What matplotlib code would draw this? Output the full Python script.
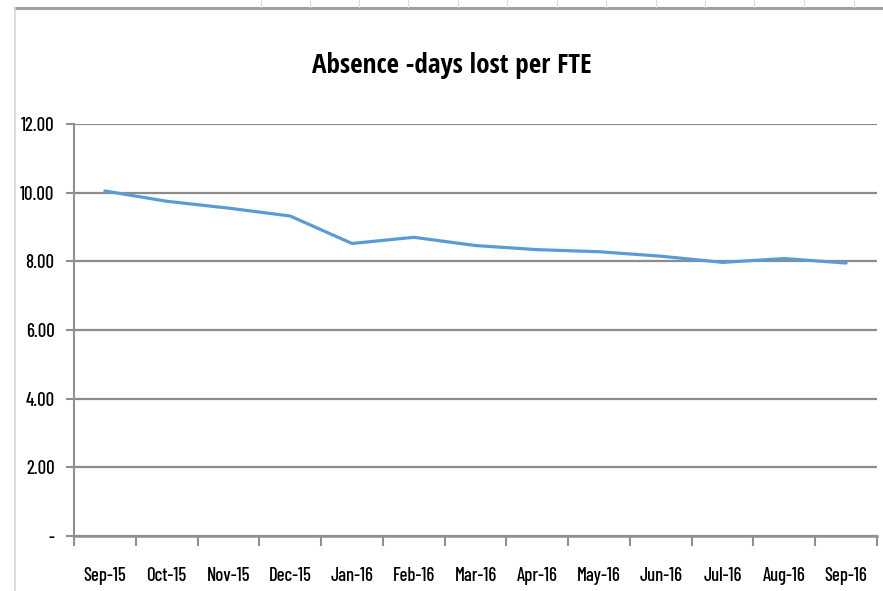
import matplotlib
matplotlib.use("Agg")
import matplotlib.pyplot as plt
from matplotlib.lines import Line2D

months = ["Sep-15", "Oct-15", "Nov-15", "Dec-15", "Jan-16", "Feb-16", "Mar-16",
          "Apr-16", "May-16", "Jun-16", "Jul-16", "Aug-16", "Sep-16"]
days_lost = [10.05, 9.75, 9.55, 9.32, 8.52, 8.70, 8.46, 8.34, 8.28, 8.15, 7.97, 8.08, 7.95]
y_ticks = [0, 2, 4, 6, 8, 10, 12]
y_labels = ["-", "2.00", "4.00", "6.00", "8.00", "10.00", "12.00"]

plt.rcParams['font.family'] = ['Barlow Condensed', 'DejaVu Sans']
plt.rcParams['font.weight'] = 500

W, H = 883, 591
fig = plt.figure(figsize=(W / 100, H / 100), dpi=100)

# spreadsheet decorations
fig.add_artist(Line2D([15 / W, 1], [1 - 8 / H, 1 - 8 / H], color="#a0a0a0", lw=2.2))
fig.add_artist(Line2D([15 / W, 15 / W], [0, 1 - 8 / H], color="#d8d8d8", lw=1.2))
for xv in [261, 310, 359, 408, 458, 507, 557, 606, 656, 705, 754, 804, 854]:
    fig.add_artist(Line2D([xv / W, xv / W], [1 - 7 / H, 1], color="#dcdcdc", lw=0.8))

ax = fig.add_axes([74 / W, 55 / H, (877 - 74) / W, (536 - 124) / H])
x = list(range(len(months)))
ax.plot(x, days_lost, color="#5B9BD5", lw=2.3, solid_capstyle="round", zorder=3)

ax.set_xlim(-0.5, len(months) - 0.5)
ax.set_ylim(0, 12)
ax.set_yticks(y_ticks)
ax.set_yticklabels(y_labels)
ax.set_xticks(x)
ax.set_xticklabels(months)
ax.set_xticks([i - 0.5 for i in range(len(months) + 1)], minor=True)
ax.tick_params(axis="x", which="major", length=0, pad=22, labelsize=13.5)
ax.tick_params(axis="x", which="minor", length=7, width=1.5, color="#909090", direction="out")
ax.tick_params(axis="y", length=6, width=1.5, color="#909090", pad=8, labelsize=13.5)

ax.grid(axis="y", color="#8c8c8c", lw=1.6)
ax.set_axisbelow(True)
for s in ["top", "right"]:
    ax.spines[s].set_visible(False)
ax.spines["left"].set_color("#909090")
ax.spines["left"].set_linewidth(1.5)
ax.spines["bottom"].set_color("#909090")
ax.spines["bottom"].set_linewidth(1.8)

fig.text(452 / W, 1 - 73 / H, "Absence -days lost per FTE", ha="center", va="baseline",
         fontsize=19.5, fontweight="bold", family=["Open Sans Condensed", "DejaVu Sans"])

fig.savefig("out.png", dpi=100)
